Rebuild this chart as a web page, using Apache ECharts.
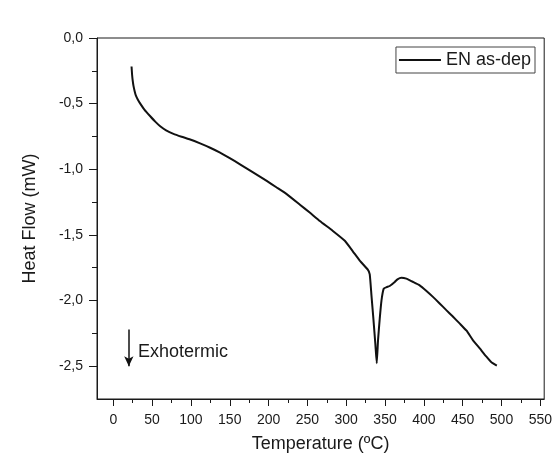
<!DOCTYPE html>
<html lang="en">
<head>
    <meta charset="UTF-8">
    <title>DSC</title>
    <style>
        html,body{margin:0;padding:0;background:#fff;}
        #main{width:555px;height:458px;}
    </style>
    <script type="text/javascript" src="https://cdn.jsdelivr.net/npm/echarts@6/dist/echarts.min.js"></script>
</head>
<body>
<div id="main"></div>
</body>
<script>
    // curve
    let temps=[23.5,24.2,25,26,27.5,29,31.5,34.7,40,47.6,54,60.4,68,77.5,88,99,111.8,124.7,137.5,150,163.2,180,197.6,210,223.3,240.4,253,266,282.8,298.2,308.5,318,327.8,330.3,332.5,335,337.5,339.3,341,343.2,345.4,348.3,352,356,362.5,366,371.1,377.5,385,394.6,403,411.7,420,428.9,437,446,455,463.1,472,480.3,487,494];
    let heatFlow=[-0.217,-0.28,-0.325,-0.365,-0.405,-0.437,-0.468,-0.5,-0.545,-0.596,-0.637,-0.672,-0.703,-0.73,-0.752,-0.773,-0.803,-0.836,-0.873,-0.915,-0.962,-1.023,-1.089,-1.137,-1.189,-1.27,-1.33,-1.394,-1.47,-1.545,-1.625,-1.70,-1.765,-1.80,-1.96,-2.14,-2.33,-2.477,-2.30,-2.136,-2.0,-1.909,-1.898,-1.889,-1.858,-1.838,-1.826,-1.833,-1.855,-1.884,-1.925,-1.972,-2.02,-2.073,-2.12,-2.174,-2.23,-2.301,-2.365,-2.426,-2.47,-2.495];

    let xTicks=[0,50,100,150,200,250,300,350,400,450,500,550];
    let xMinor=[25,75,125,175,225,275,325,375,425,475,525];
    let yTicks=[0,-0.5,-1.0,-1.5,-2.0,-2.5];
    let yMinor=[-0.25,-0.75,-1.25,-1.75,-2.25];

    let arrowFrom=[20,-2.22];
    let arrowTo=[20,-2.5];
    let note='Exhotermic';

    let chart=echarts.init(document.getElementById('main'));
    let data=temps.map((t,i)=>[t,heatFlow[i]]);
    let font='"Liberation Sans", Arial, sans-serif';
    let ink='#1a1a1a';
    let fmt=v=>v.toFixed(1).replace('.',',');

    let option={
        backgroundColor:'#fff',
        animation:false,
        grid:{
            left:97,
            top:38,
            right:10,
            bottom:57,
            show:true,
            borderColor:ink,
            borderWidth:1
        },
        legend:{
            right:20,
            top:47,
            icon:'rect',
            itemWidth:42,
            itemHeight:2,
            padding:[4,4,4,3],
            borderColor:'#444',
            borderWidth:1,
            borderRadius:0,
            textStyle:{fontFamily:font,fontSize:18,color:ink},
            data:['EN as-dep']
        },
        xAxis:[
            {
                type:'value',
                min:-21,
                max:555,
                name:'Temperature (ºC)',
                nameLocation:'middle',
                nameGap:36,
                nameTextStyle:{fontFamily:font,fontSize:18,color:ink},
                axisLine:{show:true,onZero:false,lineStyle:{color:ink,width:1}},
                axisTick:{show:true,length:7,customValues:xTicks,lineStyle:{color:ink}},
                axisLabel:{customValues:xTicks,margin:14,fontFamily:font,fontSize:14,color:ink},
                splitLine:{show:false}
            },
            {
                type:'value',
                min:-21,
                max:555,
                position:'bottom',
                axisLine:{show:false,onZero:false},
                axisTick:{show:true,length:4,customValues:xMinor,lineStyle:{color:ink}},
                axisLabel:{show:false},
                splitLine:{show:false}
            }
        ],
        yAxis:[
            {
                type:'value',
                min:-2.75,
                max:0,
                name:'Heat Flow (mW)',
                nameLocation:'middle',
                nameRotate:90,
                nameGap:58,
                nameTextStyle:{fontFamily:font,fontSize:18,color:ink},
                axisLine:{show:true,onZero:false,lineStyle:{color:ink,width:1}},
                axisTick:{show:true,length:8,customValues:yTicks,lineStyle:{color:ink}},
                axisLabel:{customValues:yTicks,margin:14,fontFamily:font,fontSize:14,color:ink,formatter:fmt},
                splitLine:{show:false}
            },
            {
                type:'value',
                min:-2.75,
                max:0,
                position:'left',
                axisLine:{show:false,onZero:false},
                axisTick:{show:true,length:5,customValues:yMinor,lineStyle:{color:ink}},
                axisLabel:{show:false},
                splitLine:{show:false}
            }
        ],
        graphic:[
            {
                type:'text',
                left:138,
                top:343,
                style:{text:note,fontFamily:font,fontSize:18,fill:ink}
            }
        ],
        series:[
            {
                type:'line',
                name:'EN as-dep',
                data:data,
                symbol:'none',
                smooth:0.15,
                lineStyle:{color:'#111',width:2},
                itemStyle:{color:'#111'},
                markLine:{
                    silent:true,
                    symbol:['none','arrow'],
                    symbolSize:[7,10],
                    label:{show:false},
                    lineStyle:{color:'#111',width:1.5,type:'solid'},
                    data:[[{coord:arrowFrom},{coord:arrowTo}]]
                }
            }
        ]
    };
    chart.setOption(option);
</script>
</html>
